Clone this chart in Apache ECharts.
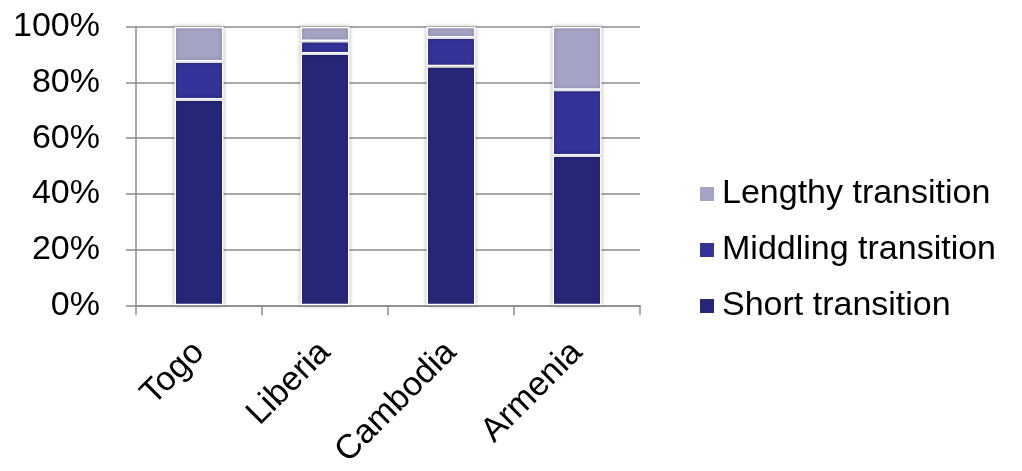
<!DOCTYPE html>
<html>
<head>
<meta charset="utf-8">
<script src="https://cdn.jsdelivr.net/npm/echarts@6/dist/echarts.min.js"></script>
<style>
html,body{margin:0;padding:0;background:#fff;}
#chart{width:1022px;height:471px;}
</style>
</head>
<body>
<div id="chart"></div>
<script>
const categories = ['Togo', 'Liberia', 'Cambodia', 'Armenia'];
const shortTransition = [73.9, 90.4, 85.8, 53.8];
const middlingTransition = [13.6, 4.5, 10.3, 23.6];
const lengthyTransition = [12.5, 5.1, 3.9, 22.6];
const seriesNames = ['Short transition', 'Middling transition', 'Lengthy transition'];
const yTicks = [0, 20, 40, 60, 80, 100];

const FONT = 'Liberation Sans, Arial, sans-serif';
const FS = 34;
const colors = ['#27277A', '#333399', '#A4A4C4'];

const chart = echarts.init(document.getElementById('chart'), null, {renderer: 'canvas'});

function barSeries(name, data, color) {
  return {
    name: name,
    type: 'bar',
    stack: 'total',
    barWidth: 49,
    data: data,
    itemStyle: {
      color: color,
      borderColor: '#ffffff',
      borderWidth: 1.5,
      shadowBlur: 4,
      shadowColor: 'rgba(0,0,0,0.25)'
    },
    emphasis: {disabled: true}
  };
}

chart.setOption({
  animation: false,
  backgroundColor: '#ffffff',
  textStyle: {fontFamily: FONT},
  grid: {left: 136, right: 382, top: 26.7, bottom: 161, containLabel: false},
  legend: {
    orient: 'vertical',
    left: 693,
    top: 169,
    itemWidth: 16,
    itemHeight: 16,
    itemGap: 16,
    icon: 'rect',
    data: [seriesNames[2], seriesNames[1], seriesNames[0]],
    textStyle: {fontFamily: FONT, fontSize: FS, color: '#000', lineHeight: 40, padding: [0, 0, 0, 2]}
  },
  xAxis: {
    type: 'category',
    data: categories,
    axisLine: {show: true, lineStyle: {color: '#8c8c8c', width: 1.5}},
    axisTick: {show: true, length: 10, lineStyle: {color: '#8c8c8c', width: 1.5}},
    axisLabel: {rotate: 45, margin: 42, fontFamily: FONT, fontSize: FS, color: '#000', interval: 0},
    splitLine: {show: false}
  },
  yAxis: {
    type: 'value',
    min: 0,
    max: 100,
    interval: 20,
    axisLine: {show: true, lineStyle: {color: '#8c8c8c', width: 1.5}},
    axisTick: {show: true, length: 10, lineStyle: {color: '#8c8c8c', width: 1.5}},
    axisLabel: {
      margin: 36,
      fontFamily: FONT,
      fontSize: FS,
      color: '#000',
      formatter: function (v) { return yTicks.indexOf(v) >= 0 ? v + '%' : ''; }
    },
    splitLine: {show: true, lineStyle: {color: '#8c8c8c', width: 1.5}}
  },
  series: [
    barSeries(seriesNames[0], shortTransition, colors[0]),
    barSeries(seriesNames[1], middlingTransition, colors[1]),
    barSeries(seriesNames[2], lengthyTransition, colors[2])
  ]
});
</script>
</body>
</html>
